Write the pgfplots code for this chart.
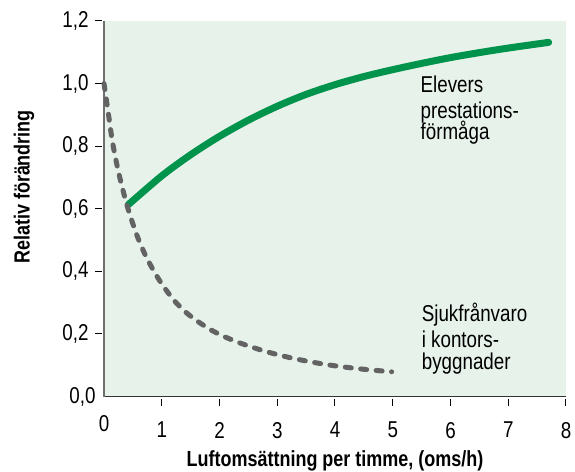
\documentclass[border=0pt]{standalone}
\usepackage{pgfplots}
\pgfplotsset{compat=1.18}
\usepackage{fontspec}
\setmainfont{Liberation Sans}[FakeStretch=0.82]
\definecolor{bggreen}{HTML}{E7F2EB}
\definecolor{linegreen}{HTML}{00934C}
\definecolor{dashgray}{HTML}{636363}
\definecolor{axgray}{HTML}{6E6E6E}
\begin{document}
\begin{tikzpicture}
\useasboundingbox (-104bp,-75.5bp) rectangle (471bp,396.5bp);
\begin{axis}[
  scale only axis,
  width=462bp, height=375.5bp,
  xmin=0, xmax=8, ymin=0, ymax=1.2,
  axis x line*=bottom, axis y line*=left,
  x axis line style={draw=black!80, line width=1.2bp},
  y axis line style={draw=axgray, line width=1.8bp},
  axis background/.style={fill=bggreen},
  xtick={1,2,3,4,5,6,7,8},
  ytick={0.2,0.4,0.6,0.8,1.0,1.2},
  extra x ticks={0}, extra y ticks={0},
  extra tick style={major tick length=0pt},
  tick align=outside,
  major tick length=7bp,
  tick style={black, line width=1bp},
  x tick style={yshift=-2bp},
  y tick style={xshift=-2bp},
  /pgf/number format/assume math mode=true,
  ticklabel style={font=\fontsize{23}{26}\selectfont},
  xticklabel style={yshift=-15bp},
  yticklabel style={xshift=-5bp},
  y tick label style={/pgf/number format/.cd, use comma, fixed, fixed zerofill, precision=1},
  x tick label style={/pgf/number format/.cd, fixed, precision=0},
  xlabel={\bfseries Luftomsättning per timme, (oms/h)},
  ylabel={\bfseries Relativ förändring},
  xlabel style={font=\fontsize{22}{24}\selectfont, at={(axis description cs:0.5,0)}, anchor=base, yshift=-70bp},
  ylabel style={font=\fontsize{22}{24}\selectfont, at={(axis description cs:0,0.558)}, anchor=center, yshift=80bp},
  clip=false,
]
\addplot[linegreen, line width=7bp, line cap=round, smooth] coordinates {
  (0.42,0.613) (1.0,0.705) (1.5,0.7725) (2.0,0.8315) (2.5,0.883) (3.0,0.9275)
  (3.5,0.9655) (4.0,0.9965) (4.5,1.0225) (5.0,1.0445) (5.5,1.0645) (6.0,1.083)
  (6.5,1.099) (7.0,1.1135) (7.7,1.1317)
};
\addplot[dashgray, line width=5bp, line cap=round, dash pattern=on 6bp off 9.5bp, smooth] coordinates {
  (0,1.0) (0.075,0.905) (0.15,0.81) (0.26,0.71) (0.4,0.61) (0.55,0.525)
  (0.7,0.458) (0.85,0.405) (1.0,0.36) (1.2,0.31) (1.4,0.272) (1.6,0.243)
  (1.84,0.214) (2.1,0.19) (2.4,0.168) (2.8,0.144) (3.2,0.125) (3.6,0.110)
  (4.0,0.098) (4.5,0.087) (4.98,0.079)
};
\begin{scope}[every node/.style={anchor=base west, inner sep=0pt, font=\fontsize{23}{24}\selectfont}]
\node at (axis cs:5.48,0.970) {Elevers};
\node at (axis cs:5.48,0.890) {prestations-};
\node at (axis cs:5.48,0.821) {förmåga};
\node at (axis cs:5.50,0.239) {Sjukfrånvaro};
\node at (axis cs:5.50,0.157) {i kontors-};
\node at (axis cs:5.50,0.087) {byggnader};
\end{scope}
\end{axis}
\end{tikzpicture}
\end{document}
